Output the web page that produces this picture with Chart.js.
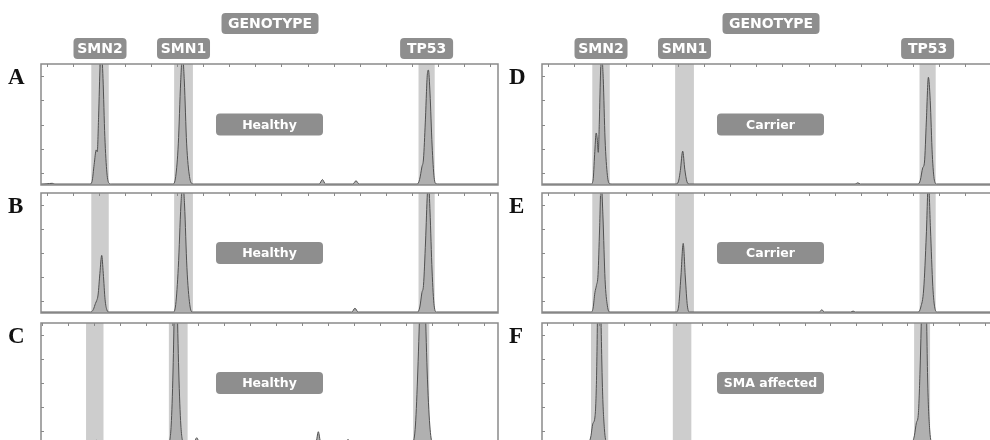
<!DOCTYPE html>
<html>
<head>
<meta charset="utf-8">
<script src="https://cdn.jsdelivr.net/npm/chart.js@4.4.0/dist/chart.umd.min.js"></script>
<style>
  html, body { margin: 0; padding: 0; background: #fff; overflow: hidden; }
  body { width: 990px; height: 440px; position: relative; }
  canvas { position: absolute; }
</style>
</head>
<body>
<canvas id="cA" width="500" height="188" style="left:0;top:0"></canvas>
<canvas id="cB" width="500" height="129" style="left:0;top:188px"></canvas>
<canvas id="cC" width="500" height="127" style="left:0;top:317px"></canvas>
<canvas id="cD" width="501" height="188" style="left:500px;top:0"></canvas>
<canvas id="cE" width="501" height="129" style="left:500px;top:188px"></canvas>
<canvas id="cF" width="501" height="127" style="left:500px;top:317px"></canvas>
<script>
// bins (size units) and their labels
const geneNames = ["SMN2", "SMN1", "TP53"];
const geneBins = [[17, 23.7], [48.8, 56], [142.6, 148.8]];
const headerText = "GENOTYPE";
const headerPos = 85.6;

const panelLetters = ["A", "B", "C", "D", "E", "F"];
const panelStatus = ["Healthy", "Healthy", "Healthy", "Carrier", "Carrier", "SMA affected"];
const axisMin = [-2.3, -2.3, -0.3, -2.3, -2.3, -2.05];
const axisMax = [173.1, 173.1, 175.2, 173.1, 173.1, 175.6];
const xTickValues = [0, 10, 20, 30, 40, 50, 60, 70, 80, 90, 100, 110, 120, 130, 140, 150, 160, 170];
const yTickValues = [100, 200, 300, 400, 500, 600, 700, 800, 900];

// traces (x = size, y = signal, 1000 = top of panel)
const traceA = [[-2.3,8],[0,10],[2,14],[3,8],[16.5,8],[17.3,30],[18.1,170],[18.9,290],[19.3,275],[19.8,560],[20.4,1000],[20.9,1120],[21.5,880],[22.2,400],[23.0,100],[23.8,15],[24.6,8],
  [48.3,8],[49.4,70],[50.4,340],[51.3,850],[52.0,1080],[52.7,860],[53.6,340],[54.7,70],[55.8,10],[56.6,8],
  [104.5,8],[105.7,45],[106.9,8],[117.4,8],[118.6,35],[119.8,8],
  [142.1,8],[143.0,45],[143.9,150],[144.5,215],[145.2,520],[146.0,920],[146.4,950],[147.0,760],[147.8,330],[148.6,60],[149.4,10],[150.5,8],[173.1,8]];
const traceB = [[-2.3,8],[16.8,8],[17.8,30],[18.6,80],[19.1,105],[19.6,150],[20.3,330],[21.0,480],[21.6,330],[22.3,110],[23.0,25],[23.8,8],
  [48.4,8],[49.4,70],[50.4,380],[51.4,900],[52.1,1100],[52.8,900],[53.7,380],[54.8,70],[55.9,8],
  [117.0,8],[118.2,40],[119.4,8],
  [142.2,8],[143.1,50],[143.9,170],[144.5,230],[145.3,600],[146.0,1000],[146.4,1100],[147.0,850],[147.8,350],[148.6,60],[149.5,8],[173.1,8]];
const traceC = [[-0.3,8],[19.8,8],[21.0,22],[22.2,8],
  [48.8,8],[49.7,150],[50.4,600],[51.0,1300],[51.4,2000],[51.9,1300],[52.6,600],[53.4,150],[54.4,8],
  [58.5,8],[59.5,44],[60.5,8],[105.3,8],[106.2,94],[107.1,8],[116.7,8],[117.6,30],[118.5,8],
  [142.5,8],[143.5,150],[144.4,600],[145.4,1300],[146.3,2000],[147.1,1300],[148.0,600],[149.0,150],[150.0,8],[175.2,8]];
const traceD = [[-2.3,8],[16.5,8],[17.3,40],[17.9,250],[18.5,430],[18.9,380],[19.3,270],[19.7,520],[20.2,950],[20.6,1080],[21.2,880],[21.9,380],[22.8,80],[23.7,10],[24.6,8],
  [49.1,8],[50.0,25],[50.8,120],[51.7,280],[52.5,130],[53.3,30],[54.2,8],
  [117.9,8],[118.9,18],[119.9,8],
  [142.0,8],[142.9,40],[143.8,140],[144.5,190],[145.2,520],[146.0,890],[146.7,700],[147.5,250],[148.3,40],[149.2,8],[173.1,8]];
const traceE = [[-2.3,8],[16.5,8],[17.3,40],[18.0,170],[18.6,230],[19.2,320],[19.8,700],[20.4,1100],[21.1,800],[21.9,280],[22.8,60],[23.7,8],
  [49.2,8],[50.1,50],[51.0,300],[51.9,580],[52.7,300],[53.5,60],[54.4,8],
  [104.2,8],[105.1,28],[106.0,8],[116.2,8],[117.1,16],[118.0,8],
  [142.1,8],[143.1,50],[144.2,200],[145.2,650],[146.0,1100],[146.8,700],[147.7,220],[148.5,40],[149.4,8],[173.1,8]];
const traceF = [[-2.05,8],[16.1,8],[16.9,50],[17.7,160],[18.6,230],[19.2,600],[19.7,1400],[20.1,2100],[20.6,1400],[21.4,500],[22.2,120],[23.1,8],
  [141.8,8],[142.7,60],[143.5,170],[144.2,230],[144.9,600],[145.8,1400],[146.5,2100],[147.2,1400],[147.9,500],[148.7,100],[149.6,8],[175.6,8]];

const traces = [traceA, traceB, traceC, traceD, traceE, traceF];
const canvasIds = ["cA", "cB", "cC", "cD", "cE", "cF"];

function caixa(ctx, cx, cy, w, h, texto, fonte) {
  ctx.fillStyle = "#8e8e8e";
  ctx.beginPath();
  ctx.roundRect(cx - w / 2, cy - h / 2, w, h, 4);
  ctx.fill();
  ctx.fillStyle = "#fff";
  ctx.font = fonte;
  ctx.textAlign = "center";
  ctx.textBaseline = "middle";
  ctx.fillText(texto, cx, cy + 1);
}

const panelDecor = {
  id: "panelDecor",
  beforeDatasetsDraw(chart) {
    const { ctx, chartArea: a } = chart;
    const x = chart.scales.x;
    ctx.save();
    ctx.fillStyle = "#cdcdcd";
    geneBins.forEach(b => {
      const x0 = x.getPixelForValue(b[0]);
      const x1 = x.getPixelForValue(b[1]);
      ctx.fillRect(x0, a.top, x1 - x0, a.bottom - a.top);
    });
    ctx.restore();
  },
  afterDatasetsDraw(chart, args, opts) {
    const { ctx, chartArea: a } = chart;
    const x = chart.scales.x, y = chart.scales.y;
    ctx.save();
    // moldura
    ctx.strokeStyle = "#8a8a8a";
    ctx.lineWidth = 1.5;
    ctx.strokeRect(a.left, a.top, a.right - a.left, a.bottom - a.top);
    // marcas internas
    ctx.lineWidth = 1;
    ctx.strokeStyle = "#888";
    ctx.beginPath();
    x.ticks.forEach(t => {
      if (t.value <= x.min || t.value >= x.max) return;
      const px = Math.round(x.getPixelForValue(t.value)) + 0.5;
      ctx.moveTo(px, a.top);
      ctx.lineTo(px, a.top + 3);
    });
    y.ticks.forEach(t => {
      if (t.value <= y.min || t.value >= y.max) return;
      const py = Math.round(y.getPixelForValue(t.value)) + 0.5;
      ctx.moveTo(a.left, py);
      ctx.lineTo(a.left + 3, py);
    });
    ctx.stroke();

    // status
    caixa(ctx, (a.left + a.right) / 2, (a.top + a.bottom) / 2, 107, 22, opts.status, "bold 12.5px 'DejaVu Sans'");

    // letra do painel
    ctx.fillStyle = "#111";
    ctx.font = "bold 23px 'Liberation Serif'";
    ctx.textAlign = "left";
    ctx.textBaseline = "alphabetic";
    ctx.fillText(opts.letter, a.left - 33, a.top + 19.5);

    if (opts.header) {
      geneBins.forEach((b, i) => {
        const cx = x.getPixelForValue((b[0] + b[1]) / 2);
        caixa(ctx, cx, a.top - 15.5, 53, 21, geneNames[i], "bold 14px 'DejaVu Sans'");
      });
      caixa(ctx, x.getPixelForValue(headerPos), a.top - 40.5, 97, 21, headerText, "bold 14px 'DejaVu Sans'");
    }
    ctx.restore();
  }
};

const paddings = [
  { left: 41, right: 2, top: 64, bottom: 3 },
  { left: 41, right: 2, top: 5, bottom: 4 },
  { left: 41, right: 2, top: 6, bottom: 1 },
  { left: 42, right: 2, top: 64, bottom: 3 },
  { left: 42, right: 2, top: 5, bottom: 4 },
  { left: 42, right: 2, top: 6, bottom: 1 }
];

traces.forEach((trace, i) => {
  const ctx = document.getElementById(canvasIds[i]).getContext("2d");
  new Chart(ctx, {
    type: "line",
    data: {
      datasets: [{
        data: trace.map(p => ({ x: p[0], y: p[1] })),
        borderColor: "#505050",
        borderWidth: 1,
        backgroundColor: "#b0b0b0",
        fill: "origin",
        pointRadius: 0,
        cubicInterpolationMode: "monotone"
      }]
    },
    options: {
      responsive: false,
      animation: false,
      events: [],
      layout: { padding: paddings[i] },
      plugins: {
        legend: { display: false },
        tooltip: { enabled: false },
        panelDecor: { letter: panelLetters[i], status: panelStatus[i], header: i === 0 || i === 3 }
      },
      scales: {
        x: {
          type: "linear", display: false, min: axisMin[i], max: axisMax[i],
          afterBuildTicks: s => { s.ticks = xTickValues.map(v => ({ value: v })); }
        },
        y: {
          type: "linear", display: false, min: 0, max: 1000,
          afterBuildTicks: s => { s.ticks = yTickValues.map(v => ({ value: v })); }
        }
      }
    },
    plugins: [panelDecor]
  });
});
</script>
</body>
</html>
